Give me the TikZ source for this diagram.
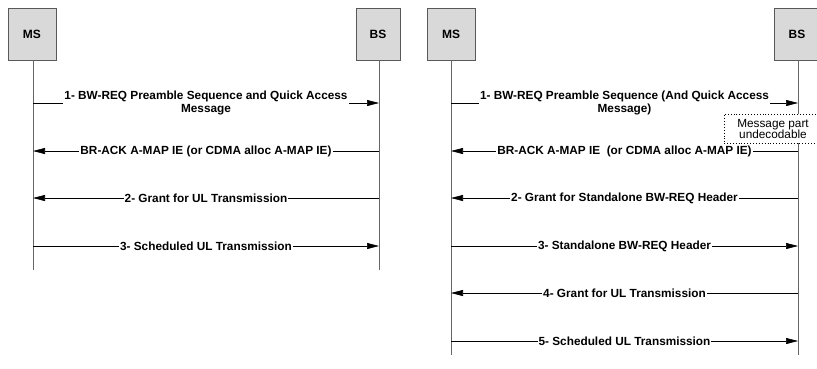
\documentclass[tikz,border=0pt]{standalone}
\usepackage{fontspec}
\setmainfont{Liberation Sans}
\usetikzlibrary{arrows.meta}
\begin{document}
\begin{tikzpicture}[x=1pt,y=-1pt,
  ent/.style={draw=black!65,fill=black!15,line width=0.8pt,minimum height=52pt,font=\fontsize{12}{14}\selectfont\bfseries,inner sep=0pt},
  life/.style={draw=black!60,line width=0.9pt},
  msg/.style={draw=black,line width=0.6pt,-{Triangle[length=12pt,width=6pt]}},
  lbl/.style={fill=white,inner sep=1pt,font=\fontsize{11.8}{13}\selectfont\bfseries,align=center},
  note/.style={draw=black,dotted,line width=0.9pt,fill=white,font=\fontsize{11.8}{11}\selectfont,align=center,inner sep=0pt}]
\useasboundingbox (0,0) rectangle (817,368);
\begin{scope}
\clip (0,0) rectangle (817,368);
% left diagram
\node[ent,minimum width=48pt] (ms1) at (32,34) {MS};
\node[ent,minimum width=44pt] (bs1) at (378,34) {BS};
\coordinate (ms1e) at (33,270);
\coordinate (bs1e) at (379,270);
\draw[life] (ms1.south -| ms1e) -- (ms1e);
\draw[life] (bs1.south -| bs1e) -- (bs1e);
\coordinate (a1) at (33,103); \coordinate (b1) at (379,103);
\coordinate (a2) at (33,151); \coordinate (b2) at (379,151);
\coordinate (a3) at (33,198); \coordinate (b3) at (379,198);
\coordinate (a4) at (33,246); \coordinate (b4) at (379,246);
\draw[msg] (a1) -- node[lbl] {1- BW-REQ Preamble Sequence and Quick Access\\Message} (b1);
\draw[msg] (b2) -- node[lbl] {BR-ACK A-MAP IE (or CDMA alloc A-MAP IE)} (a2);
\draw[msg] (b3) -- node[lbl] {2- Grant for UL Transmission} (a3);
\draw[msg] (a4) -- node[lbl] {3- Scheduled UL Transmission} (b4);
% right diagram
\node[ent,minimum width=48pt] (ms2) at (451,34) {MS};
\node[ent,minimum width=46pt] (bs2) at (797,34) {BS};
\coordinate (ms2e) at (451,355);
\coordinate (bs2e) at (798,355);
\draw[life] (ms2.south -| ms2e) -- (ms2e);
\draw[life] (bs2.south -| bs2e) -- (bs2e);
\coordinate (c1) at (451,103); \coordinate (d1) at (798,103);
\coordinate (c2) at (451,151); \coordinate (d2) at (798,151);
\coordinate (c3) at (451,198); \coordinate (d3) at (798,198);
\coordinate (c4) at (451,246); \coordinate (d4) at (798,246);
\coordinate (c5) at (451,293); \coordinate (d5) at (798,293);
\coordinate (c6) at (451,341); \coordinate (d6) at (798,341);
\draw[msg] (c1) -- node[lbl] {1- BW-REQ Preamble Sequence (And Quick Access\\Message)} (d1);
\draw[msg] (d2) -- node[lbl] {BR-ACK A-MAP IE\ \ (or CDMA alloc A-MAP IE)} (c2);
\draw[msg] (d3) -- node[lbl] {2- Grant for Standalone BW-REQ Header} (c3);
\draw[msg] (c4) -- node[lbl] {3- Standalone BW-REQ Header} (d4);
\draw[msg] (d5) -- node[lbl] {4- Grant for UL Transmission} (c5);
\draw[msg] (c6) -- node[lbl] {5- Scheduled UL Transmission} (d6);
\node[note,minimum width=98pt,minimum height=29pt] (nt) at (773,128.5) {Message part\\undecodable};
\end{scope}
\end{tikzpicture}
\end{document}
